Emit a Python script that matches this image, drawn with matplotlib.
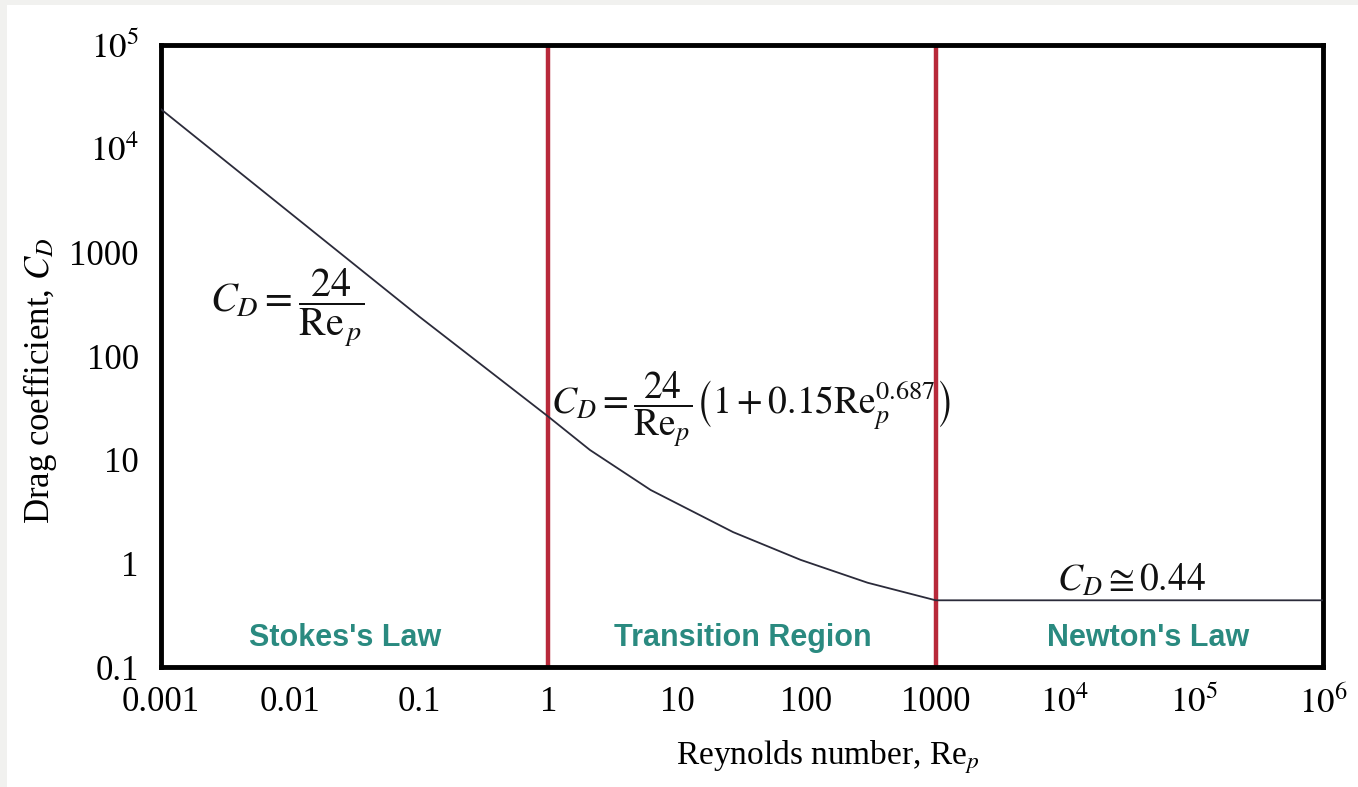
import matplotlib
matplotlib.use("Agg")
import matplotlib.pyplot as plt
from matplotlib.patches import Rectangle

# Data
re_values = [0.001, 0.01, 0.1, 1, 2.1, 6.2, 27, 90, 297, 1000, 1e4, 1e5, 1e6]
cd_values = [24000, 2400, 240, 26, 12.4, 5.1, 2.0, 1.08, 0.65, 0.44, 0.44, 0.44, 0.44]
region_bounds = [1, 1000]
region_names = ["Stokes's Law", "Transition Region", "Newton's Law"]
region_label_x = [0.0267, 31.9, 4.4e4]
x_ticks = [1e-3, 1e-2, 1e-1, 1, 10, 100, 1000, 1e4, 1e5, 1e6]
x_tick_labels = ["0.001", "0.01", "0.1", "1", "10", "100", "1000",
                 r"$10^4$", r"$10^5$", r"$10^6$"]
y_ticks = [0.1, 1, 10, 100, 1000, 1e4, 1e5]
y_tick_labels = ["0.1", "1", "10", "100", "1000", r"$10^4$", r"$10^5$"]

plt.rcParams['font.family'] = ['Liberation Serif', 'DejaVu Serif']
plt.rcParams['mathtext.fontset'] = 'stix'

W, H = 1358, 787
fig = plt.figure(figsize=(W / 100, H / 100), dpi=100, facecolor='#f1f1ef')
fig.patches.append(Rectangle((7 / W, 0), 1 - 7 / W, 1 - 5 / H, transform=fig.transFigure,
                             facecolor='white', edgecolor='none', zorder=-10))

left, right, top, bottom = 161, 1323, 45, 667
ax = fig.add_axes([left / W, 1 - bottom / H, (right - left) / W, (bottom - top) / H])
ax.set_xscale('log')
ax.set_yscale('log')
ax.set_xlim(1e-3, 1e6)
ax.set_ylim(0.1, 1e5)

ax.plot(re_values, cd_values, color='#2b2b3a', lw=1.3, zorder=3)
for b in region_bounds:
    ax.axvline(b, color='#b8293a', lw=3.2, zorder=2)

for xv, name in zip(region_label_x, region_names):
    ax.text(xv, 0.19, name, ha='center', va='center', color='#2a8a80',
            fontsize=22, fontweight='bold', family=['Liberation Sans', 'DejaVu Sans'])

ax.text(0.0095, 290, r'$C_D=\dfrac{24}{\mathrm{Re}_{\,p}}$', ha='center', va='center',
        fontsize=29, color='#111111')
ax.text(37, 30, r'$C_D=\dfrac{24}{\mathrm{Re}_p}\left(1+0.15\mathrm{Re}_p^{0.687}\right)$',
        ha='center', va='center', fontsize=27, color='#111111')
ax.text(3.3e4, 0.68, r'$C_D\cong 0.44$', ha='center', va='center',
        fontsize=27, color='#111111')

ax.set_xticks(x_ticks)
ax.set_xticklabels(x_tick_labels)
ax.set_yticks(y_ticks)
ax.set_yticklabels(y_tick_labels)
ax.minorticks_off()
ax.tick_params(length=0, labelsize=25, pad=16)
ax.tick_params(axis='x', pad=14)
for s in ax.spines.values():
    s.set_linewidth(3.5)
    s.set_color('black')

fig.text(828 / W, 1 - 757 / H, r'Reynolds number, Re$_p$', ha='center', va='center', fontsize=24)
fig.text(40 / W, 1 - 381 / H, r'Drag coefficient, $C_D$', ha='center', va='center',
         fontsize=25, rotation=90)

fig.savefig('out.png', dpi=100, facecolor=fig.get_facecolor())
